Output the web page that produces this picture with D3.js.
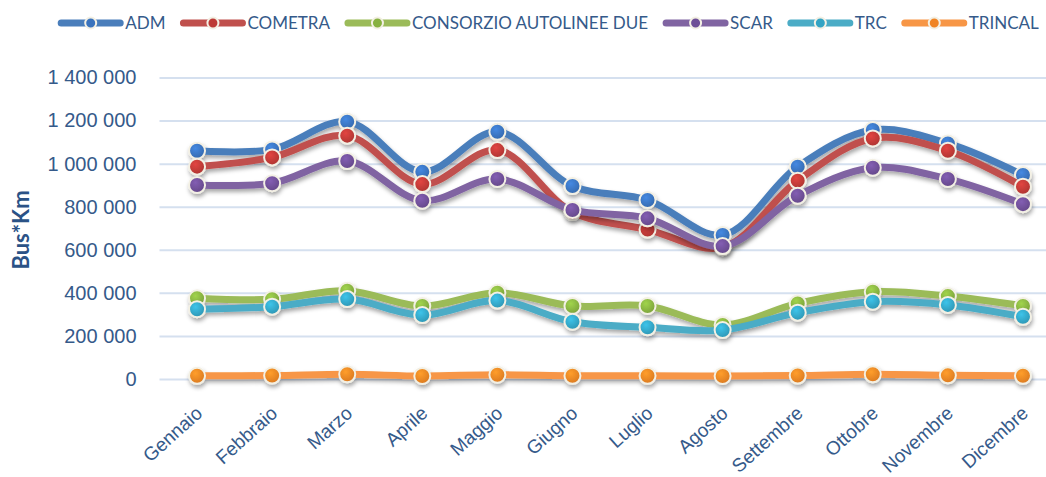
<!DOCTYPE html>
<html>
<head>
<meta charset="utf-8">
<script src="https://cdn.jsdelivr.net/npm/d3@7"></script>
<style>
  body { margin:0; background:#fff; }
  svg { font-family: Lato, "Open Sans", sans-serif; }
  .tick text { fill:#355a8a; }
</style>
</head>
<body>
<div id="chart"></div>
<script>
// months on the x axis
var months = ["Gennaio","Febbraio","Marzo","Aprile","Maggio","Giugno","Luglio","Agosto","Settembre","Ottobre","Novembre","Dicembre"]
var seriesNames = ["ADM","COMETRA","CONSORZIO AUTOLINEE DUE","SCAR","TRC","TRINCAL"]
var seriesColors = ["#4a7ebb","#c0504d","#9bbb59","#8064a2","#4bacc6","#f79646"]
var markerColors = ["#3a73bd","#bd3a36","#87b140","#6e4f96","#33a4c4","#f08424"]

// values (Bus*Km)
var adm      = [1060000,1066000,1195000,962000,1148000,896000,831000,669000,986000,1156000,1094000,947000]
var cometra  = [986000,1029000,1130000,905000,1063000,775000,694000,612000,921000,1117000,1060000,893000]
var consorzio= [375000,370000,410000,339000,401000,339000,339000,251000,351000,405000,385000,339000]
var scar     = [901000,909000,1012000,828000,929000,785000,746000,617000,851000,981000,929000,812000]
var trc      = [324000,336000,371000,297000,364000,266000,240000,227000,308000,359000,344000,289000]
var trincal  = [15000,16000,22000,14000,20000,15000,15000,14000,16000,22000,17000,15000]
var yTicks = [0,200000,400000,600000,800000,1000000,1200000,1400000]

var allValues = [adm,cometra,consorzio,scar,trc,trincal]

var W = 1046, H = 477
var svg = d3.select("#chart").append("svg").attr("width",W).attr("height",H)

var defs = svg.append("defs")
var f = defs.append("filter").attr("id","shadow").attr("x","-20%").attr("y","-20%").attr("width","140%").attr("height","160%")
f.append("feDropShadow").attr("dx",1).attr("dy",3).attr("stdDeviation",2).attr("flood-color","#000").attr("flood-opacity",0.35)

markerColors.forEach(function(c,i){
  var g = defs.append("radialGradient").attr("id","mg"+i).attr("cx","40%").attr("cy","35%").attr("r","70%")
  g.append("stop").attr("offset","0%").attr("stop-color",d3.color(c).brighter(0.5))
  g.append("stop").attr("offset","100%").attr("stop-color",d3.color(c).darker(0.3))
})

var x = d3.scalePoint().domain(months).range([159.5,1060.5]).padding(0.5)
var y = d3.scaleLinear().domain([0,1400000]).range([379,77.5])

var loc = d3.formatLocale({decimal:",", thousands:"\u00a0", grouping:[3], currency:["","€"]})
var fmt = loc.format(",")

// y axis with gridlines
var yAxis = svg.append("g").attr("transform","translate(159.5,0)")
  .call(d3.axisLeft(y).tickValues(yTicks).tickFormat(fmt).tickSize(-(1060.5-159.5)).tickPadding(23))
yAxis.select(".domain").remove()
yAxis.selectAll(".tick line").attr("stroke","#d5e0ef").attr("stroke-width",2)
yAxis.selectAll(".tick text").style("font-size","20px").attr("fill","#355a8a")

svg.append("text").attr("transform","translate(29,230) rotate(-90)")
  .attr("text-anchor","middle").style("font-size","22px").style("font-weight","bold")
  .attr("fill","#2a5286").text("Bus*Km")

// x axis labels
var xAxis = svg.append("g").attr("transform","translate(0,379)")
  .call(d3.axisBottom(x).tickSize(0).tickPadding(0))
xAxis.select(".domain").remove()
xAxis.selectAll(".tick text")
  .style("font-size","19px").attr("fill","#355a8a")
  .attr("text-anchor","end").attr("dy",null).attr("y",null)
  .attr("transform","translate(6,36) rotate(-42)")

// series
var line = d3.line().x(function(d,i){return x(months[i])}).y(function(d){return y(d)})
  .curve(d3.curveCatmullRom.alpha(0.5))

allValues.forEach(function(vals,i){
  var g = svg.append("g").attr("class","series").attr("filter","url(#shadow)")
  g.append("path").datum(vals).attr("d",line)
    .attr("fill","none").attr("stroke",seriesColors[i]).attr("stroke-width",7)
    .attr("stroke-linejoin","round").attr("stroke-linecap","round")
  g.selectAll("circle").data(vals).enter().append("circle")
    .attr("cx",function(d,j){return x(months[j])}).attr("cy",function(d){return y(d)})
    .attr("r",8).attr("fill","url(#mg"+i+")").attr("stroke","#f3f0e4").attr("stroke-width",2)
})

// legend
var legend = svg.append("g")
var lx = 0
seriesNames.forEach(function(n,i){
  var it = legend.append("g").attr("transform","translate("+lx+",0)")
  it.append("line").attr("x1",2).attr("x2",61).attr("y1",23).attr("y2",23)
    .attr("stroke",seriesColors[i]).attr("stroke-width",7).attr("stroke-linecap","round")
  it.append("circle").attr("cx",31.5).attr("cy",23).attr("r",5.5)
    .attr("fill",markerColors[i]).attr("stroke","#f3f0e4").attr("stroke-width",2)
  var t = it.append("text").attr("x",66).attr("y",29).style("font-size","17px")
    .attr("fill","#355a8a").text(n)
  lx += 66 + t.node().getComputedTextLength() + 16
})
var lw = lx - 16
legend.attr("transform","translate("+(549-lw/2)+",0)")
</script>
</body>
</html>
